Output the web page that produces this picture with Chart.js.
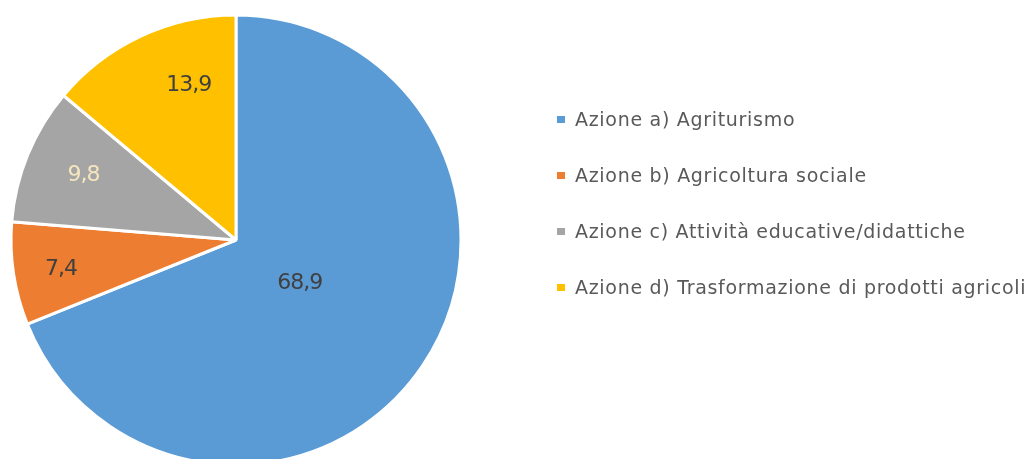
<!DOCTYPE html>
<html>
<head>
<meta charset="utf-8">
<script src="https://cdn.jsdelivr.net/npm/chart.js@4.4.1/dist/chart.umd.min.js"></script>
<style>
  html, body { margin: 0; padding: 0; background: #fff; overflow: hidden; }
  #wrap { position: relative; width: 1027px; height: 459px; overflow: hidden; }
  #legend { position: absolute; left: 557px; top: 91px; margin: 0; padding: 0; list-style: none;
            font-family: "DejaVu Sans", sans-serif; font-size: 19px; letter-spacing: 0.7px; color: #595959; }
  #legend li { height: 56px; line-height: 56px; white-space: nowrap; }
  #legend span { display: inline-block; width: 8px; height: 7px; margin-right: 10px; vertical-align: middle; position: relative; top: -1px; }
</style>
</head>
<body>
<div id="wrap">
  <canvas id="c" width="1027" height="480"></canvas>
  <ul id="legend"></ul>
</div>
<script>
const labels = [
  "Azione a) Agriturismo",
  "Azione b) Agricoltura sociale",
  "Azione c) Attività educative/didattiche",
  "Azione d) Trasformazione di prodotti agricoli"
]
const values = [68.9, 7.4, 9.8, 13.9]
const colors = ["#5B9BD5", "#ED7D31", "#A5A5A5", "#FFC000"]
const labelColors = ["#404040", "#404040", "#F5E6BE", "#404040"]

// value label placement: share of radius and small angle nudge (deg), Excel "best fit" look
const labelRadius = [0.342, 0.789, 0.736, 0.718]
const labelNudge = [0, -1, 0.6, 8]

const valueLabels = {
  id: "valueLabels",
  afterDatasetsDraw(chart) {
    const ctx = chart.ctx
    const meta = chart.getDatasetMeta(0)
    ctx.save()
    ctx.font = "22px 'DejaVu Sans', sans-serif"
    ctx.letterSpacing = "-1px"
    ctx.textAlign = "center"
    ctx.textBaseline = "middle"
    meta.data.forEach((arc, i) => {
      const p = arc.getProps(["x", "y", "startAngle", "endAngle", "outerRadius"], true)
      const mid = (p.startAngle + p.endAngle) / 2 + labelNudge[i] * Math.PI / 180
      const r = p.outerRadius * labelRadius[i]
      ctx.fillStyle = labelColors[i]
      ctx.fillText(values[i].toFixed(1).replace(".", ","), p.x + Math.cos(mid) * r, p.y + Math.sin(mid) * r)
    })
    ctx.restore()
  }
}

new Chart(document.getElementById("c"), {
  type: "pie",
  data: {
    labels,
    datasets: [{
      data: values,
      backgroundColor: colors,
      borderColor: "#fff",
      borderWidth: 3,
      radius: 225
    }]
  },
  options: {
    responsive: false,
    animation: false,
    layout: { padding: { left: 11, right: 566, top: 15, bottom: 15 } },
    plugins: {
      legend: { display: false },
      tooltip: { enabled: false }
    }
  },
  plugins: [valueLabels]
})

const legend = document.getElementById("legend")
labels.forEach((l, i) => {
  const li = document.createElement("li")
  li.innerHTML = `<span style="background:${colors[i]}"></span>${l}`
  legend.appendChild(li)
})
</script>
</body>
</html>
